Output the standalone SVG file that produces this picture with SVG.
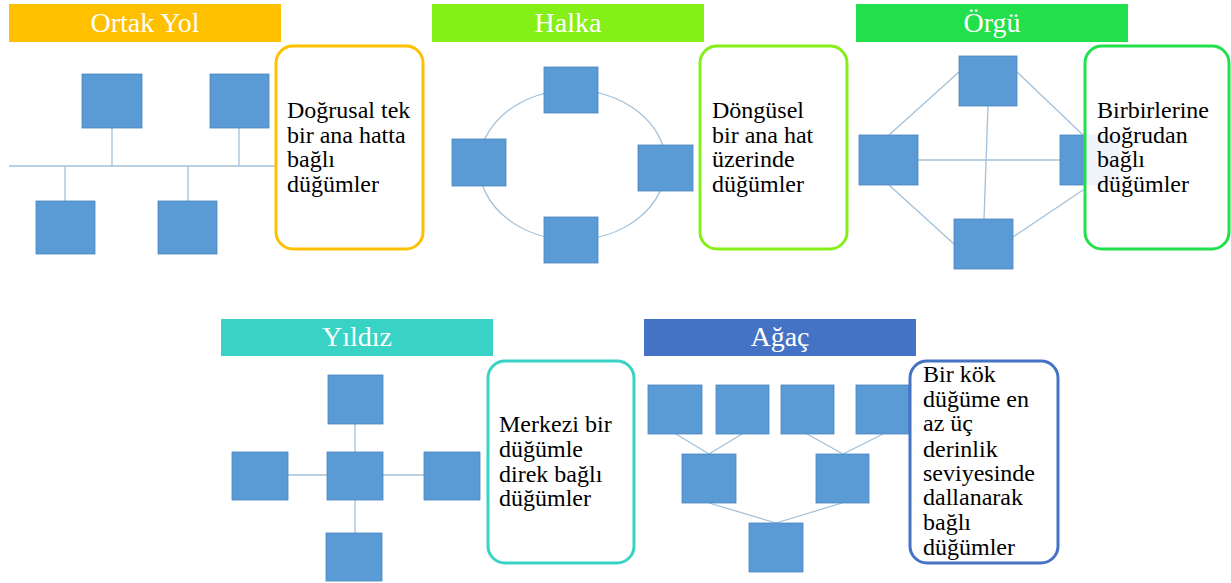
<svg xmlns="http://www.w3.org/2000/svg" width="1231" height="583" viewBox="0 0 1231 583">
<style>
.hdr{font-family:'Liberation Serif',Tinos,'DejaVu Serif',serif;font-size:28px;fill:#fff;text-anchor:middle}
.desc{font-family:'Liberation Serif',Tinos,'DejaVu Serif',serif;font-size:24px;fill:#000}
.n{fill:#5B9BD5;stroke:#4A86BF;stroke-width:0.8}
.c{stroke:#A3C1DA;stroke-width:1.3;fill:none}
.box{fill:#fff;fill-opacity:0.9;stroke-width:3}
</style>
<rect width="1231" height="583" fill="#fff"/>

<!-- connectors -->
<g id="connectors">
  <line class="c" x1="9" y1="166" x2="275" y2="166"/>
  <line class="c" x1="112" y1="128" x2="112" y2="166"/>
  <line class="c" x1="239" y1="128" x2="239" y2="166"/>
  <line class="c" x1="65" y1="166" x2="65" y2="201"/>
  <line class="c" x1="188" y1="166" x2="188" y2="201"/>
  <ellipse class="c" cx="572.5" cy="165" rx="93.5" ry="75"/>
  <line class="c" x1="889" y1="135" x2="959" y2="72"/>
  <line class="c" x1="1017" y1="72" x2="1083" y2="135"/>
  <line class="c" x1="918" y1="160" x2="1060" y2="160"/>
  <line class="c" x1="988" y1="106" x2="984" y2="219"/>
  <line class="c" x1="889" y1="185" x2="954" y2="244"/>
  <line class="c" x1="1013" y1="237" x2="1083" y2="190"/>
  <line class="c" x1="355" y1="424" x2="355" y2="452"/>
  <line class="c" x1="355" y1="500" x2="355" y2="533"/>
  <line class="c" x1="288" y1="475" x2="328" y2="475"/>
  <line class="c" x1="383" y1="475" x2="424" y2="475"/>
  <line class="c" x1="676" y1="434" x2="709" y2="454"/>
  <line class="c" x1="742" y1="434" x2="709" y2="454"/>
  <line class="c" x1="807" y1="434" x2="843" y2="454"/>
  <line class="c" x1="883" y1="434" x2="843" y2="454"/>
  <line class="c" x1="709" y1="503" x2="776" y2="523"/>
  <line class="c" x1="842" y1="503" x2="776" y2="523"/>
</g>

<g id="ortak-yol">
  <rect x="9" y="4" width="272" height="38" fill="#FFC000"/>
  <text class="hdr" x="145" y="32" font-family="Liberation Serif, serif">Ortak Yol</text>
  <rect class="n" x="82" y="74" width="60" height="54"/>
  <rect class="n" x="210" y="74" width="59" height="54"/>
  <rect class="n" x="36" y="201" width="59" height="53"/>
  <rect class="n" x="158" y="201" width="59" height="53"/>
  <rect class="box" x="276" y="46" width="147" height="203" rx="17" stroke="#FFC000"/>
  <text class="desc" x="287" y="118">Doğrusal tek</text>
  <text class="desc" x="287" y="142.5">bir ana hatta</text>
  <text class="desc" x="287" y="167">bağlı</text>
  <text class="desc" x="287" y="191.5">düğümler</text>
</g>

<g id="halka">
  <rect x="432" y="4" width="272" height="38" fill="#84F018"/>
  <text class="hdr" x="568" y="32">Halka</text>
  <rect class="n" x="544" y="67" width="54" height="46"/>
  <rect class="n" x="452" y="139" width="54" height="47"/>
  <rect class="n" x="638" y="145" width="55" height="46"/>
  <rect class="n" x="544" y="217" width="54" height="46"/>
  <rect class="box" x="700" y="46" width="147" height="203" rx="17" stroke="#84F018"/>
  <text class="desc" x="712" y="118">Döngüsel</text>
  <text class="desc" x="712" y="142.5">bir ana hat</text>
  <text class="desc" x="712" y="167">üzerinde</text>
  <text class="desc" x="712" y="191.5">düğümler</text>
</g>

<g id="orgu">
  <rect x="856" y="4" width="272" height="38" fill="#22E04B"/>
  <text class="hdr" x="992" y="32">Örgü</text>
  <rect class="n" x="959" y="56" width="58" height="50"/>
  <rect class="n" x="859" y="135" width="59" height="50"/>
  <rect class="n" x="1060" y="135" width="59" height="50"/>
  <rect class="n" x="954" y="219" width="59" height="50"/>
  <rect class="box" x="1085" y="46" width="144" height="203" rx="17" stroke="#22E04B"/>
  <text class="desc" x="1097" y="118">Birbirlerine</text>
  <text class="desc" x="1097" y="142.5">doğrudan</text>
  <text class="desc" x="1097" y="167">bağlı</text>
  <text class="desc" x="1097" y="191.5">düğümler</text>
</g>

<g id="yildiz">
  <rect x="221" y="319" width="272" height="37" fill="#38D3C4"/>
  <text class="hdr" x="357" y="346">Yıldız</text>
  <rect class="n" x="328" y="375" width="55" height="49"/>
  <rect class="n" x="327" y="452" width="56" height="48"/>
  <rect class="n" x="232" y="452" width="56" height="48"/>
  <rect class="n" x="424" y="452" width="56" height="48"/>
  <rect class="n" x="326" y="533" width="56" height="48"/>
  <rect class="box" x="488" y="361" width="146" height="202" rx="17" stroke="#38D3C4"/>
  <text class="desc" x="499" y="432">Merkezi bir</text>
  <text class="desc" x="499" y="457">düğümle</text>
  <text class="desc" x="499" y="482">direk bağlı</text>
  <text class="desc" x="499" y="506">düğümler</text>
</g>

<g id="agac">
  <rect x="644" y="319" width="272" height="37" fill="#4472C4"/>
  <text class="hdr" x="780" y="346">Ağaç</text>
  <rect class="n" x="648" y="385" width="54" height="49"/>
  <rect class="n" x="716" y="385" width="53" height="49"/>
  <rect class="n" x="781" y="385" width="53" height="49"/>
  <rect class="n" x="856" y="385" width="53" height="49"/>
  <rect class="n" x="682" y="454" width="54" height="49"/>
  <rect class="n" x="816" y="454" width="53" height="49"/>
  <rect class="n" x="749" y="523" width="54" height="49"/>
  <rect class="box" x="910" y="361" width="148" height="202" rx="17" stroke="#4472C4"/>
  <text class="desc" x="923" y="382">Bir kök</text>
  <text class="desc" x="923" y="407">düğüme en</text>
  <text class="desc" x="923" y="431">az üç</text>
  <text class="desc" x="923" y="457">derinlik</text>
  <text class="desc" x="923" y="481">seviyesinde</text>
  <text class="desc" x="923" y="505">dallanarak</text>
  <text class="desc" x="923" y="530">bağlı</text>
  <text class="desc" x="923" y="555">düğümler</text>
</g>
</svg>
